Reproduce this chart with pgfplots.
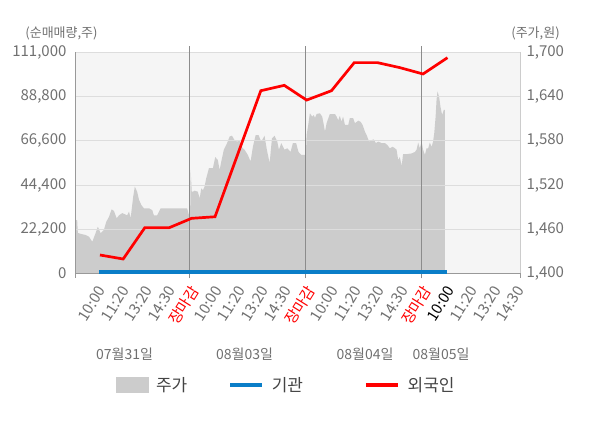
\documentclass[border=0pt]{standalone}
\usepackage{pgfplots}
\pgfplotsset{compat=1.18}
\usepackage{fontspec}
\setmainfont{Noto Sans CJK KR}
\definecolor{areagray}{HTML}{CCCCCC}
\definecolor{bggray}{HTML}{F5F5F5}
\definecolor{gridgray}{HTML}{DDDDDD}
\definecolor{leftgray}{HTML}{999999}
\definecolor{rightgray}{HTML}{CCCCCC}
\definecolor{daygray}{HTML}{8C8C8C}
\definecolor{txtgray}{HTML}{707070}
\definecolor{legtxt}{HTML}{444444}
\definecolor{instblue}{HTML}{0A7EC8}
\definecolor{forred}{HTML}{FF0000}
\begin{document}
\begin{tikzpicture}[x=1pt,y=1pt]
\path[use as bounding box] (0,0) rectangle (600,428);
% ---------- price (right axis) ----------
\begin{axis}[
  at={(76pt,154.5pt)}, anchor=south west,
  scale only axis, width=444pt, height=221pt,
  xmin=-0.9, xmax=18.2, ymin=1400, ymax=1700,
  axis background/.style={fill=bggray},
  hide x axis,
  axis y line*=right,
  y axis line style={draw=rightgray, line width=1pt, -},
  ytick={1400,1460,1520,1580,1640,1700},
  major tick length=0pt,
  yticklabel style={font=\fontsize{15}{17}\selectfont, text=txtgray, xshift=3pt},
  /pgf/number format/fixed,
  /pgf/number format/1000 sep={,},
  /pgf/number format/assume math mode=true,
]
\addplot[fill=areagray, draw=none] coordinates {
(-0.90,1472.6) (-0.85,1472.6) (-0.82,1455) (-0.67,1453.6) (-0.49,1452.3) (-0.34,1450)
(-0.20,1443) (-0.06,1454.6) (0.04,1463.5) (0.16,1454.6) (0.30,1459) (0.40,1470)
(0.52,1477) (0.63,1487) (0.73,1485) (0.85,1475) (0.95,1479) (1.09,1482)
(1.30,1479) (1.38,1484) (1.45,1475) (1.56,1504) (1.63,1518) (1.73,1511)
(1.81,1500) (1.91,1493) (2.02,1488.5) (2.24,1488.5) (2.38,1486) (2.45,1479)
(2.59,1479) (2.74,1488.5) (3.88,1488.5) (3.96,1479) (4.01,1477)
(4.03,1540.5) (4.08,1511) (4.13,1511) (4.20,1512.4) (4.34,1511) (4.42,1502)
(4.49,1515.7) (4.56,1513) (4.63,1518) (4.70,1529) (4.82,1543) (4.99,1543)
(5.09,1558) (5.20,1554) (5.28,1540.5) (5.35,1552) (5.46,1568) (5.60,1577)
(5.71,1586) (5.81,1587) (5.92,1581) (6.03,1579) (6.14,1581) (6.21,1572)
(6.35,1568) (6.49,1561) (6.61,1552) (6.71,1572) (6.83,1588) (6.95,1588)
(7.07,1579) (7.21,1587) (7.31,1568) (7.43,1550) (7.53,1583.5) (7.64,1587)
(7.76,1579) (7.83,1568) (7.93,1577) (8.07,1568) (8.19,1570) (8.33,1565)
(8.43,1577) (8.57,1577) (8.67,1565) (8.79,1561) (8.96,1561) (8.99,1561)
(9.02,1588) (9.09,1601.6) (9.16,1617.5) (9.26,1613) (9.33,1615) (9.38,1611)
(9.45,1616.5) (9.59,1617.5) (9.69,1613) (9.76,1601.6) (9.81,1592.5) (9.88,1604)
(10.02,1616.5) (10.24,1616.5) (10.31,1613) (10.38,1608) (10.45,1614) (10.52,1606)
(10.59,1613) (10.67,1601.6) (10.81,1601.6) (10.88,1611) (11.02,1611) (11.10,1604)
(11.24,1607.4) (11.34,1606) (11.43,1601.6) (11.53,1592.5) (11.60,1588) (11.71,1579)
(11.81,1581) (11.91,1582) (12.00,1577) (12.10,1579) (12.25,1577) (12.39,1577)
(12.49,1574.5) (12.60,1570) (12.72,1572) (12.82,1570) (12.89,1568) (12.96,1554)
(13.03,1558) (13.11,1546) (13.17,1562) (13.32,1562) (13.54,1563) (13.68,1565)
(13.75,1568) (13.82,1577.6) (13.89,1570) (13.97,1579)
(14.03,1568) (14.11,1561) (14.18,1570) (14.25,1570) (14.32,1577.6) (14.40,1572)
(14.46,1579) (14.51,1590) (14.57,1613) (14.61,1635.5) (14.65,1647) (14.72,1640)
(14.78,1626) (14.85,1615) (14.92,1622) (14.97,1622)
} \closedcycle;
\end{axis}
% ---------- net buying (left axis) ----------
\begin{axis}[
  at={(76pt,154.5pt)}, anchor=south west,
  scale only axis, width=444pt, height=221pt,
  xmin=-0.9, xmax=18.2, ymin=0, ymax=111000,
  clip=false,
  axis y line*=left, axis x line*=bottom,
  y axis line style={draw=leftgray, line width=1pt, -},
  x axis line style={draw=leftgray, line width=1pt, -},
  ytick={0,22200,44400,66600,88800,111000},
  scaled y ticks=false,
  ymajorgrids, grid style={gridgray, line width=1pt},
  major tick length=0pt,
  yticklabel style={font=\fontsize{15}{17}\selectfont, text=txtgray, xshift=-6pt},
  /pgf/number format/fixed,
  /pgf/number format/1000 sep={,},
  /pgf/number format/assume math mode=true,
  xtick={0,...,18},
  xticklabels={10:00,11:20,13:20,14:30,{\color{forred}장마감},10:00,11:20,13:20,14:30,{\color{forred}장마감},10:00,11:20,13:20,14:30,{\color{forred}장마감},{\color{black}10:00},11:20,13:20,14:30},
  xticklabel style={font=\fontsize{15}{17}\selectfont, text=txtgray, inner sep=0pt, xshift=5pt, yshift=-14pt, rotate=58, anchor=east},
  legend style={at={(0.471,-0.5045)}, anchor=center, draw=none, fill=none,
    legend columns=3, font=\fontsize{17}{20}\selectfont, text=legtxt,
    column sep=8pt, nodes={inner sep=0pt}},
]
\draw[daygray, line width=1pt] (axis cs:4,-2500) -- (axis cs:4,114500);
\draw[daygray, line width=1pt] (axis cs:8.99,-2500) -- (axis cs:8.99,114500);
\draw[daygray, line width=1pt] (axis cs:13.98,-2500) -- (axis cs:13.98,114500);
\draw[leftgray, line width=1pt] (axis cs:-0.9,0) -- (axis cs:-0.9,-2500);
\draw[leftgray, line width=1pt] (axis cs:18.2,0) -- (axis cs:18.2,-2500);
\addlegendimage{legend image code/.code={\fill[areagray] (0pt,-7.5pt) rectangle (32pt,7.5pt);}}
\addlegendentry{주가\hspace*{33pt}}
\addlegendimage{legend image code/.code={\draw[instblue, line width=3.5pt] (0pt,0pt) -- (32pt,0pt);}}
\addlegendentry{기관\hspace*{53pt}}
\addlegendimage{legend image code/.code={\draw[forred, line width=3.5pt] (0pt,0pt) -- (32pt,0pt);}}
\addlegendentry{외국인}
\addplot[instblue, line width=3.3pt, forget plot] coordinates {
(0.1,700) (1.1,700) (2.1,700) (3.1,700) (4.1,700) (5.1,700) (6.1,700) (7.1,700)
(8.1,700) (9.1,700) (10.1,700) (11.1,700) (12.1,700) (13.1,700) (14.1,700) (15.05,700)
};
\addplot[forred, line width=2.7pt, forget plot] coordinates {
(0.13,9290) (1.13,7280) (2.06,23000) (3.11,23000) (4.07,27700) (5.08,28500)
(7.05,91800) (8.06,94500) (9.02,87100) (10.09,91800) (11.07,105900) (12.07,105900)
(13.03,103400) (14.03,100200) (15.08,108400)
};
\end{axis}
% ---------- titles and dates ----------
\node[text=txtgray, font=\fontsize{13}{15}\selectfont] at (61.5,395) {(순매매량,주)};
\node[text=txtgray, font=\fontsize{13}{15}\selectfont] at (535.5,395) {(주가,원)};
\node[text=txtgray, font=\fontsize{14}{16}\selectfont] at (124.5,74) {07월31일};
\node[text=txtgray, font=\fontsize{14}{16}\selectfont] at (244.5,74) {08월03일};
\node[text=txtgray, font=\fontsize{14}{16}\selectfont] at (365,74) {08월04일};
\node[text=txtgray, font=\fontsize{14}{16}\selectfont] at (441,74) {08월05일};
\end{tikzpicture}
\end{document}
